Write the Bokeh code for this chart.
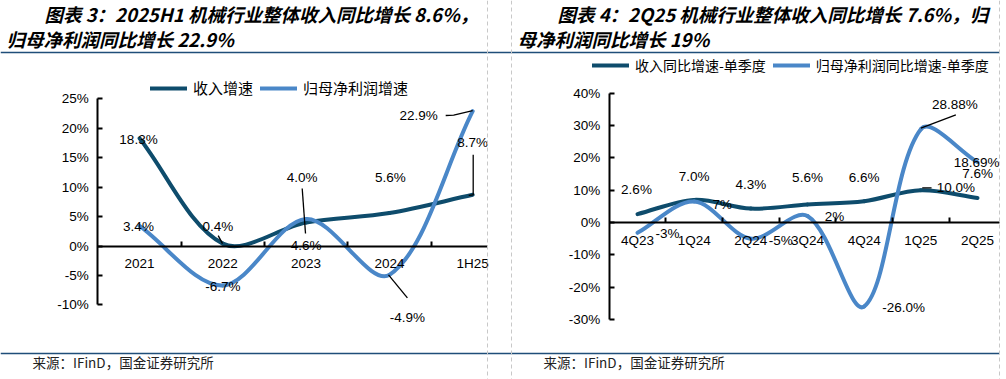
import numpy as np
from bokeh.plotting import figure
from bokeh.models import (Range1d, LinearAxis, FixedTicker, PrintfTickFormatter,
                          CustomJSTickFormatter, ColumnDataSource, Span, Legend, LegendItem)
from bokeh.core.properties import value
from bokeh.embed import file_html
from bokeh.resources import INLINE

# ---------------- data ----------------
left_categories = ["2021", "2022", "2023", "2024", "1H25"]
left_revenue = [18.3, 0.4, 4.0, 5.6, 8.7]
left_profit = [3.4, -6.7, 4.6, -4.9, 22.9]
left_revenue_labels = ["18.3%", "0.4%", "4.0%", "5.6%", "8.7%"]
left_profit_labels = ["3.4%", "-6.7%", "4.6%", "-4.9%", "22.9%"]
left_y_ticks = [-10, -5, 0, 5, 10, 15, 20, 25]
left_series_names = ["收入增速", "归母净利润增速"]

right_categories = ["4Q23", "1Q24", "2Q24", "3Q24", "4Q24", "1Q25", "2Q25"]
right_revenue = [2.6, 7.0, 4.3, 5.6, 6.6, 10.0, 7.6]
right_profit = [-3.2, 6.5, -5.0, 2.0, -26.0, 28.88, 18.69]
right_revenue_labels = ["2.6%", "7.0%", "4.3%", "5.6%", "6.6%", "10.0%", "7.6%"]
right_profit_labels = ["-3%", "7%", "-5%", "2%", "-26.0%", "28.88%", "18.69%"]
right_y_ticks = [-30, -20, -10, 0, 10, 20, 30, 40]
right_series_names = ["收入同比增速-单季度", "归母净利润同比增速-单季度"]

left_title = ["图表 3：2025H1 机械行业整体收入同比增长 8.6%，", "归母净利润同比增长 22.9%"]
right_title = ["图表 4：2Q25 机械行业整体收入同比增长 7.6%，归", "母净利润同比增长 19%"]
source_text = "来源：IFinD，国金证券研究所"

# ---------------- style / layout ----------------
DARK = "#0E4C6C"
LIGHT = "#4A87C8"
RULE = "#1F4E79"
NUM_FONT = "Liberation Sans"
CJK_FONT = "Noto Sans CJK SC"

W, H = 1006, 379
PX0, PY0 = 0, 0          # page offset of the canvas

# chart geometry in page pixels: x of first category, px per category, y of zero, px per 1%
LG = dict(x0=139.0, dx=83.3, y0=245.5, dy=5.886, xb=(-0.5, 4.18), yb=(-10, 25))
RG = dict(x0=637.0, dx=56.67, y0=222.0, dy=3.23, xb=(-0.5, 6.39), yb=(-30, 40))

p = figure(width=W, height=H, output_backend="svg", toolbar_location=None,
           x_range=Range1d(PX0, PX0 + W), y_range=Range1d(PY0 + H, PY0),
           x_axis_type=None, y_axis_type=None, min_border=0)
p.outline_line_color = None
p.background_fill_color = "white"
p.border_fill_color = "white"


def smooth_segments(vals, dxp, dyp):
    """Excel-like smoothed line as cubic Bezier segments (data units)."""
    n = len(vals)
    qx = [i * dxp for i in range(n)]
    qy = [v * dyp for v in vals]

    def d(a, b):
        return float(np.hypot(qx[b] - qx[a], qy[b] - qy[a]))

    seg = dict(x0=[], y0=[], x1=[], y1=[], cx0=[], cy0=[], cx1=[], cy1=[])
    for i in range(n - 1):
        a, b = max(i - 1, 0), i + 1
        dp, dn = d(a, i), d(i, i + 1)
        w = dn / (dp + dn)
        c0x = qx[i] + (qx[b] - qx[a]) * w / 3
        c0y = qy[i] + (qy[b] - qy[a]) * w / 3
        a2, b2 = i, min(i + 2, n - 1)
        dp2, dn2 = d(i, i + 1), d(i + 1, b2)
        w2 = dp2 / (dp2 + dn2)
        c1x = qx[i + 1] - (qx[b2] - qx[a2]) * w2 / 3
        c1y = qy[i + 1] - (qy[b2] - qy[a2]) * w2 / 3
        seg["x0"].append(qx[i] / dxp); seg["y0"].append(qy[i] / dyp)
        seg["x1"].append(qx[i + 1] / dxp); seg["y1"].append(qy[i + 1] / dyp)
        seg["cx0"].append(c0x / dxp); seg["cy0"].append(c0y / dyp)
        seg["cx1"].append(c1x / dxp); seg["cy1"].append(c1y / dyp)
    return ColumnDataSource(seg)


def build_chart(key, g, cats, rev, prof, rev_labels, prof_labels, yticks, names,
                rev_off, prof_off, leaders, legend_loc, legend_font, legend_size, label_size):
    xr, yr = key + "x", key + "y"
    p.extra_x_ranges[xr] = Range1d((PX0 - g["x0"]) / g["dx"], (PX0 + W - g["x0"]) / g["dx"])
    p.extra_y_ranges[yr] = Range1d((g["y0"] - (PY0 + H)) / g["dy"], (g["y0"] - PY0) / g["dy"])
    n = len(cats)

    # y axis
    yax = LinearAxis(x_range_name=xr, y_range_name=yr, fixed_location=-0.5, bounds=g["yb"],
                     ticker=FixedTicker(ticks=yticks), formatter=PrintfTickFormatter(format="%d%%"),
                     major_tick_in=5, major_tick_out=0, minor_tick_line_color=None,
                     axis_line_width=2, major_tick_line_width=2, major_label_standoff=9,
                     major_label_text_font=NUM_FONT, major_label_text_font_size="13.5px",
                     major_label_text_color="black")
    p.add_layout(yax, "left")
    # x axis line with boundary ticks
    xax = LinearAxis(x_range_name=xr, y_range_name=yr, fixed_location=0, bounds=g["xb"],
                     ticker=FixedTicker(ticks=[i + 0.5 for i in range(n - 1)]),
                     formatter=CustomJSTickFormatter(code="return ''"),
                     major_tick_in=5, major_tick_out=0, minor_tick_line_color=None,
                     axis_line_width=2, major_tick_line_width=2)
    p.add_layout(xax, "below")
    # category labels
    xlab = LinearAxis(x_range_name=xr, y_range_name=yr, fixed_location=0, bounds=(-0.5, n - 0.5),
                      ticker=FixedTicker(ticks=list(range(n))),
                      major_label_overrides={i: c for i, c in enumerate(cats)},
                      axis_line_color=None, major_tick_line_color=None, minor_tick_line_color=None,
                      major_tick_in=0, major_tick_out=0, major_label_standoff=10,
                      major_label_text_font=NUM_FONT, major_label_text_font_size="13.5px",
                      major_label_text_color="black")
    p.add_layout(xlab, "below")

    r_rev = p.bezier(x0="x0", y0="y0", x1="x1", y1="y1", cx0="cx0", cy0="cy0", cx1="cx1", cy1="cy1",
                     source=smooth_segments(rev, g["dx"], g["dy"]), x_range_name=xr, y_range_name=yr,
                     line_color=DARK, line_width=4, line_cap="round")
    r_prof = p.bezier(x0="x0", y0="y0", x1="x1", y1="y1", cx0="cx0", cy0="cy0", cx1="cx1", cy1="cy1",
                      source=smooth_segments(prof, g["dx"], g["dy"]), x_range_name=xr, y_range_name=yr,
                      line_color=LIGHT, line_width=4, line_cap="round")

    # leader lines: (series, index, list of pixel offsets from the point)
    xs, ys = [], []
    for series, idx, pts in leaders:
        vals = rev if series == "rev" else prof
        xs.append([idx + ox / g["dx"] for ox, oy in pts])
        ys.append([vals[idx] - oy / g["dy"] for ox, oy in pts])
    if xs:
        p.multi_line(xs=xs, ys=ys, x_range_name=xr, y_range_name=yr, line_color="black", line_width=1.3)

    for vals, labels, off in ((rev, rev_labels, rev_off), (prof, prof_labels, prof_off)):
        src = ColumnDataSource(dict(x=list(range(n)), y=vals, t=labels,
                                    ox=[o[0] for o in off], oy=[o[1] for o in off]))
        p.text(x="x", y="y", text="t", x_offset="ox", y_offset="oy", source=src,
               x_range_name=xr, y_range_name=yr, text_align="center", text_baseline="middle",
               text_font=value(NUM_FONT), text_font_size=label_size, text_color="black")

    legend = Legend(items=[LegendItem(label=names[0], renderers=[r_rev]),
                           LegendItem(label=names[1], renderers=[r_prof])],
                    orientation="horizontal", location=legend_loc, glyph_width=37, glyph_height=20,
                    label_height=20, label_standoff=6, spacing=7, padding=0, margin=0,
                    border_line_alpha=0, background_fill_alpha=0,
                    label_text_font=legend_font, label_text_font_size=legend_size,
                    label_text_color="black")
    p.add_layout(legend)


build_chart("L", LG, left_categories, left_revenue, left_profit, left_revenue_labels,
            left_profit_labels, left_y_ticks, left_series_names,
            rev_off=[(-1, 1), (-5, -17), (-4, -45), (1, -35.5), (0, -52)],
            prof_off=[(-1, 0.5), (0, 1), (0, 27), (18, 43), (-54, 4)],
            leaders=[("rev", 1, [(-4.6, -8), (-0.3, 0)]),
                     ("rev", 2, [(-3.9, -34), (-0.6, 11)]),
                     ("rev", 4, [(0.5, -40), (0.5, 0), (-4, 0.5)]),
                     ("prof", 3, [(-0.9, 0), (18, 23)]),
                     ("prof", 4, [(-27, 4.3), (-19, 4), (0, -0.7)])],
            legend_loc=(150 - PX0, H - (88 - PY0) - 10), legend_font=CJK_FONT,
            legend_size="15px", label_size="13.5px")

build_chart("R", RG, right_categories, right_revenue, right_profit, right_revenue_labels,
            right_profit_labels, right_y_ticks, right_series_names,
            rev_off=[(-1, -25), (0, -23.5), (0, -24), (0, -27), (0, -24), (35, -3), (0, -24.5)],
            prof_off=[(30, 1), (28, 2.5), (30, 2), (27, 0.5), (39.5, 1), (34, -24.5), (-1, 0)],
            leaders=[("prof", 5, [(0, -1), (35, -14.4)]),
                     ("rev", 5, [(1.4, -2.4), (10.7, -2.4)])],
            legend_loc=(592 - PX0, H - (65 - PY0) - 10), legend_font=CJK_FONT,
            legend_size="14px", label_size="13.5px")

# ---------------- decorations ----------------
for loc in (487, 511, 999):
    p.add_layout(Span(location=loc, dimension="height", line_color="#c8c8c8",
                      line_dash="4 3", line_width=1))
p.segment(x0=[0, 0], x1=[999, 999], y0=[52, 353], y1=[52, 353], line_color=RULE, line_width=1.5)

p.text(x=[44, 6, 557, 517], y=[13, 38.5, 13, 38.5],
       text=[left_title[0], left_title[1], right_title[0], right_title[1]],
       text_align="left", text_baseline="middle", text_font=value(CJK_FONT),
       text_font_size="18.5px", text_font_style="bold italic", text_color="black")
p.text(x=[32, 543], y=[361, 361], text=[source_text, source_text],
       text_align="left", text_baseline="middle", text_font=value(CJK_FONT),
       text_font_size="13.5px", text_color="#222222")

open("out.html", "w").write(file_html(p, INLINE))
